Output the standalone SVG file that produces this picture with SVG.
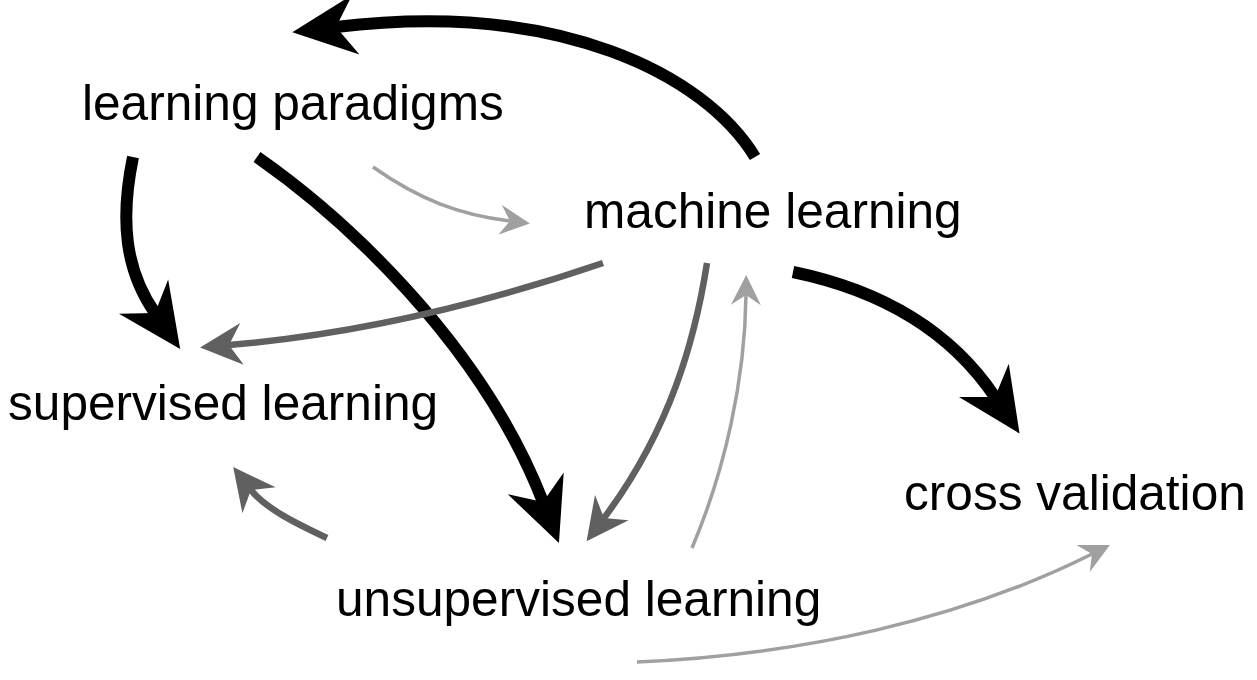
<svg xmlns="http://www.w3.org/2000/svg" width="1257" height="680" viewBox="0 0 1257 680">
  <style>
    .lbl { font-family: "Liberation Sans", Arial, sans-serif; font-size: 49.6px; fill: #000; }
    .e { fill: none; stroke-linecap: butt; }
    .blk { stroke: #000; stroke-width: 12; marker-end: url(#ahB); }
    .drk { stroke: #606060; stroke-width: 6.5; marker-end: url(#ahD); }
    .lgt { stroke: #a0a0a0; stroke-width: 3.5; marker-end: url(#ahL); }
  </style>
  <defs>
    <marker id="ahB" markerUnits="userSpaceOnUse" orient="auto" refX="0" refY="0" markerWidth="80" markerHeight="80" overflow="visible">
      <path d="M0,0 L-20,-30 L44,0 L-20,30 Z" fill="#000"/>
    </marker>
    <marker id="ahD" markerUnits="userSpaceOnUse" orient="auto" refX="0" refY="0" markerWidth="60" markerHeight="60" overflow="visible">
      <path d="M0,0 L-13,-21 L29,0 L-13,21 Z" fill="#606060"/>
    </marker>
    <marker id="ahL" markerUnits="userSpaceOnUse" orient="auto" refX="0" refY="0" markerWidth="40" markerHeight="40" overflow="visible">
      <path d="M0,0 L-10,-15 L20,0 L-10,15 Z" fill="#a0a0a0"/>
    </marker>
  </defs>
  <rect width="1257" height="680" fill="#fff"/>
  <g id="connectors">
    <path id="e-ml-lp" class="e blk" d="M755,157 C705,75 560,0 336,27"/>
    <path id="e-lp-sl" class="e blk" d="M133,157 C120,220 125,270 155,313"/>
    <path id="e-lp-ul" class="e blk" d="M257,157 C340,215 480,340 543,502"/>
    <path id="e-lp-ml" class="e lgt" d="M373,167 C420,200 460,215 510,221"/>
    <path id="e-ml-sl" class="e drk" d="M603,263 C480,305 350,335 229,345"/>
    <path id="e-ml-ul" class="e drk" d="M707,263 C695,340 670,430 604,518"/>
    <path id="e-ul-ml" class="e lgt" d="M692,548 C725,470 745,380 746,295"/>
    <path id="e-ml-cv" class="e blk" d="M793,272 C880,290 950,330 995,397"/>
    <path id="e-ul-sl" class="e drk" d="M327,538 C295,523 265,508 251,490"/>
    <path id="e-ul-cv" class="e lgt" d="M637,662 C800,655 960,620 1092,554"/>
  </g>
  <g id="node-learning-paradigms"><text class="lbl" x="82" y="120">learning paradigms</text></g>
  <g id="node-machine-learning"><text class="lbl" x="584" y="228">machine learning</text></g>
  <g id="node-supervised-learning"><text class="lbl" x="8" y="420">supervised learning</text></g>
  <g id="node-cross-validation"><text class="lbl" x="904" y="510">cross validation</text></g>
  <g id="node-unsupervised-learning"><text class="lbl" x="336" y="616">unsupervised learning</text></g>
</svg>
